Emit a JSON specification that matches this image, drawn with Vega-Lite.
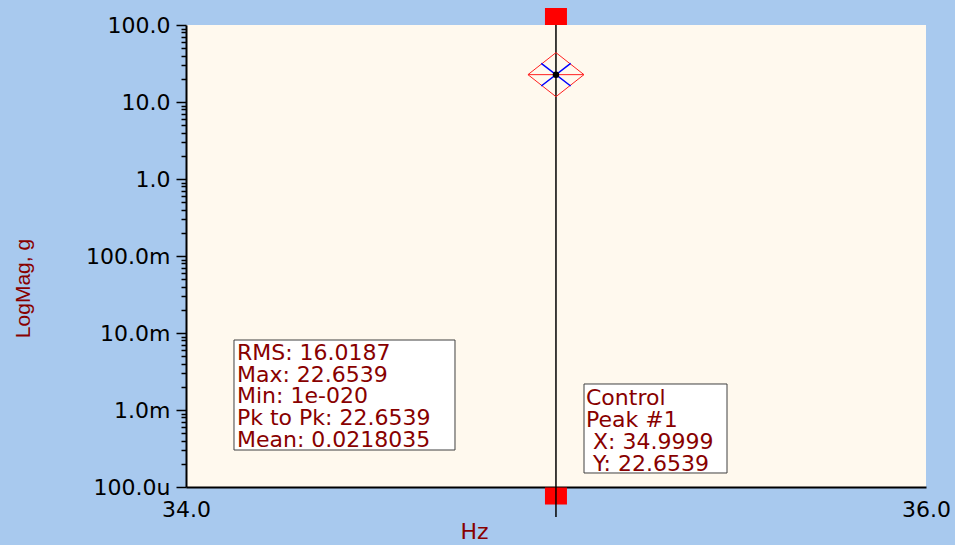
{
  "$schema": "https://vega.github.io/schema/vega-lite/v6.json",
  "width": 740,
  "height": 462,
  "autosize": "none",
  "padding": {"left": 186, "top": 25, "right": 29, "bottom": 58},
  "background": "#A8C9EE",
  "config": {"view": {"fill": "#FFF9EE", "stroke": null}},
  "data": {"values": [{"hz": 34.9999, "mag": 22.6539}]},
  "resolve": {"axis": {"y": "independent"}},
  "layer": [
    {
      "mark": {"type": "rect", "fill": "white", "stroke": "#404040", "strokeWidth": 1},
      "encoding": {
        "x": {"datum": 34.1297, "type": "quantitative",
          "scale": {"domain": [34, 36], "nice": false, "zero": false},
          "axis": {"values": [34, 36], "format": ".1f", "ticks": false, "tickSize": 0, "grid": false,
            "labelFlush": false, "labelOverlap": false, "labelPadding": 12,
            "labelFont": "DejaVu Sans", "labelFontSize": 22, "labelColor": "black",
            "domainColor": "black", "domainWidth": 2,
            "title": "Hz", "titleFont": "DejaVu Sans", "titleFontSize": 22, "titleFontWeight": "normal",
            "titleColor": "#880000", "titleX": 288, "titleY": 51, "titleAlign": "center", "titleBaseline": "alphabetic"}},
        "x2": {"datum": 34.727},
        "y": {"datum": 0.00811, "type": "quantitative",
          "scale": {"type": "log", "domain": [0.0001, 100], "nice": false},
          "axis": {"orient": "left", "values": [0.0001, 0.001, 0.01, 0.1, 1, 10, 100],
            "labelExpr": "datum.value >= 0.999 ? format(datum.value, '.1f') : datum.value >= 0.000999 ? format(datum.value * 1000, '.1f') + 'm' : format(datum.value * 1000000, '.1f') + 'u'",
            "tickSize": 10, "tickColor": "black", "tickWidth": 1.5, "grid": false,
            "labelPadding": 6, "labelFont": "DejaVu Sans", "labelFontSize": 22, "labelColor": "black",
            "labelOverlap": false, "labelFlush": false,
            "domainColor": "black", "domainWidth": 2,
            "title": "LogMag, g", "titleFont": "Liberation Sans", "titleFontSize": 21, "titleFontWeight": "normal",
            "titleColor": "#880000", "titleX": -157, "titleY": 263, "titleAlign": "center", "titleBaseline": "alphabetic", "titleAngle": -90}},
        "y2": {"datum": 0.0003023}
      }
    },
    {
      "mark": {"type": "rect", "fill": "white", "stroke": "#404040", "strokeWidth": 1},
      "encoding": {
        "x": {"datum": 35.0757, "type": "quantitative"},
        "x2": {"datum": 35.4622},
        "y": {"datum": 0.002177, "type": "quantitative", "axis": null},
        "y2": {"datum": 0.000152}
      }
    },
    {
      "mark": {"type": "point", "shape": "M-1,-0.773L1,-0.773L1,0.773L-1,0.773Z", "filled": true, "fill": "#FF0000", "stroke": null, "opacity": 1, "size": 484, "clip": false},
      "encoding": {
        "x": {"field": "hz", "type": "quantitative"},
        "y": {"datum": 128.97, "type": "quantitative", "axis": null}
      }
    },
    {
      "mark": {"type": "point", "shape": "M-1,-0.773L1,-0.773L1,0.773L-1,0.773Z", "filled": true, "fill": "#FF0000", "stroke": null, "opacity": 1, "size": 484, "clip": false},
      "encoding": {
        "x": {"field": "hz", "type": "quantitative"},
        "y": {"datum": 0.00007637, "type": "quantitative", "axis": null}
      }
    },
    {
      "mark": {"type": "rule", "color": "black", "strokeWidth": 1.5, "clip": false},
      "encoding": {
        "x": {"field": "hz", "type": "quantitative"},
        "y": {"datum": 100, "type": "quantitative",
          "axis": {"orient": "left", "values": [0.0002,0.0003,0.0004,0.0005,0.0006,0.0007,0.0008,0.0009,0.002,0.003,0.004,0.005,0.006,0.007,0.008,0.009,0.02,0.03,0.04,0.05,0.06,0.07,0.08,0.09,0.2,0.3,0.4,0.5,0.6,0.7,0.8,0.9,2,3,4,5,6,7,8,9,20,30,40,50,60,70,80,90],
            "labels": false, "domain": false, "grid": false, "title": null,
            "tickSize": 5, "tickColor": "black", "tickWidth": 1.5}},
        "y2": {"datum": 0.00004077}
      }
    },
    {
      "mark": {"type": "point", "shape": "M0,-0.786L1,0L0,0.786L-1,0ZM-1,0L1,0", "filled": false, "stroke": "#FF2020", "strokeWidth": 1, "opacity": 1, "size": 3136},
      "encoding": {
        "x": {"field": "hz", "type": "quantitative"},
        "y": {"field": "mag", "type": "quantitative", "axis": null}
      }
    },
    {
      "mark": {"type": "point", "shape": "M-1,-0.77L1,0.77M-1,0.77L1,-0.77", "filled": false, "stroke": "#0000FF", "strokeWidth": 1.5, "opacity": 1, "size": 864},
      "encoding": {
        "x": {"field": "hz", "type": "quantitative"},
        "y": {"field": "mag", "type": "quantitative", "axis": null}
      }
    },
    {
      "mark": {"type": "circle", "color": "black", "opacity": 1, "size": 42},
      "encoding": {
        "x": {"field": "hz", "type": "quantitative"},
        "y": {"field": "mag", "type": "quantitative", "axis": null}
      }
    },
    {
      "mark": {"type": "text", "text": ["RMS: 16.0187", "Max: 22.6539", "Min: 1e-020", "Pk to Pk: 22.6539", "Mean: 0.0218035"],
        "align": "left", "baseline": "alphabetic", "lineHeight": 21.75, "font": "DejaVu Sans", "fontSize": 22, "color": "#880000"},
      "encoding": {
        "x": {"datum": 34.1378, "type": "quantitative"},
        "y": {"datum": 0.004461, "type": "quantitative", "axis": null}
      }
    },
    {
      "mark": {"type": "text", "text": ["Control", "Peak #1"],
        "align": "left", "baseline": "alphabetic", "lineHeight": 21.7, "font": "DejaVu Sans", "fontSize": 22, "color": "#880000"},
      "encoding": {
        "x": {"datum": 35.0811, "type": "quantitative"},
        "y": {"datum": 0.001161, "type": "quantitative", "axis": null}
      }
    },
    {
      "mark": {"type": "text", "text": ["X: 34.9999", "Y: 22.6539"],
        "align": "left", "baseline": "alphabetic", "lineHeight": 21.7, "font": "DejaVu Sans", "fontSize": 22, "color": "#880000"},
      "encoding": {
        "x": {"datum": 35.1, "type": "quantitative"},
        "y": {"datum": 0.0003082, "type": "quantitative", "axis": null}
      }
    }
  ]
}
